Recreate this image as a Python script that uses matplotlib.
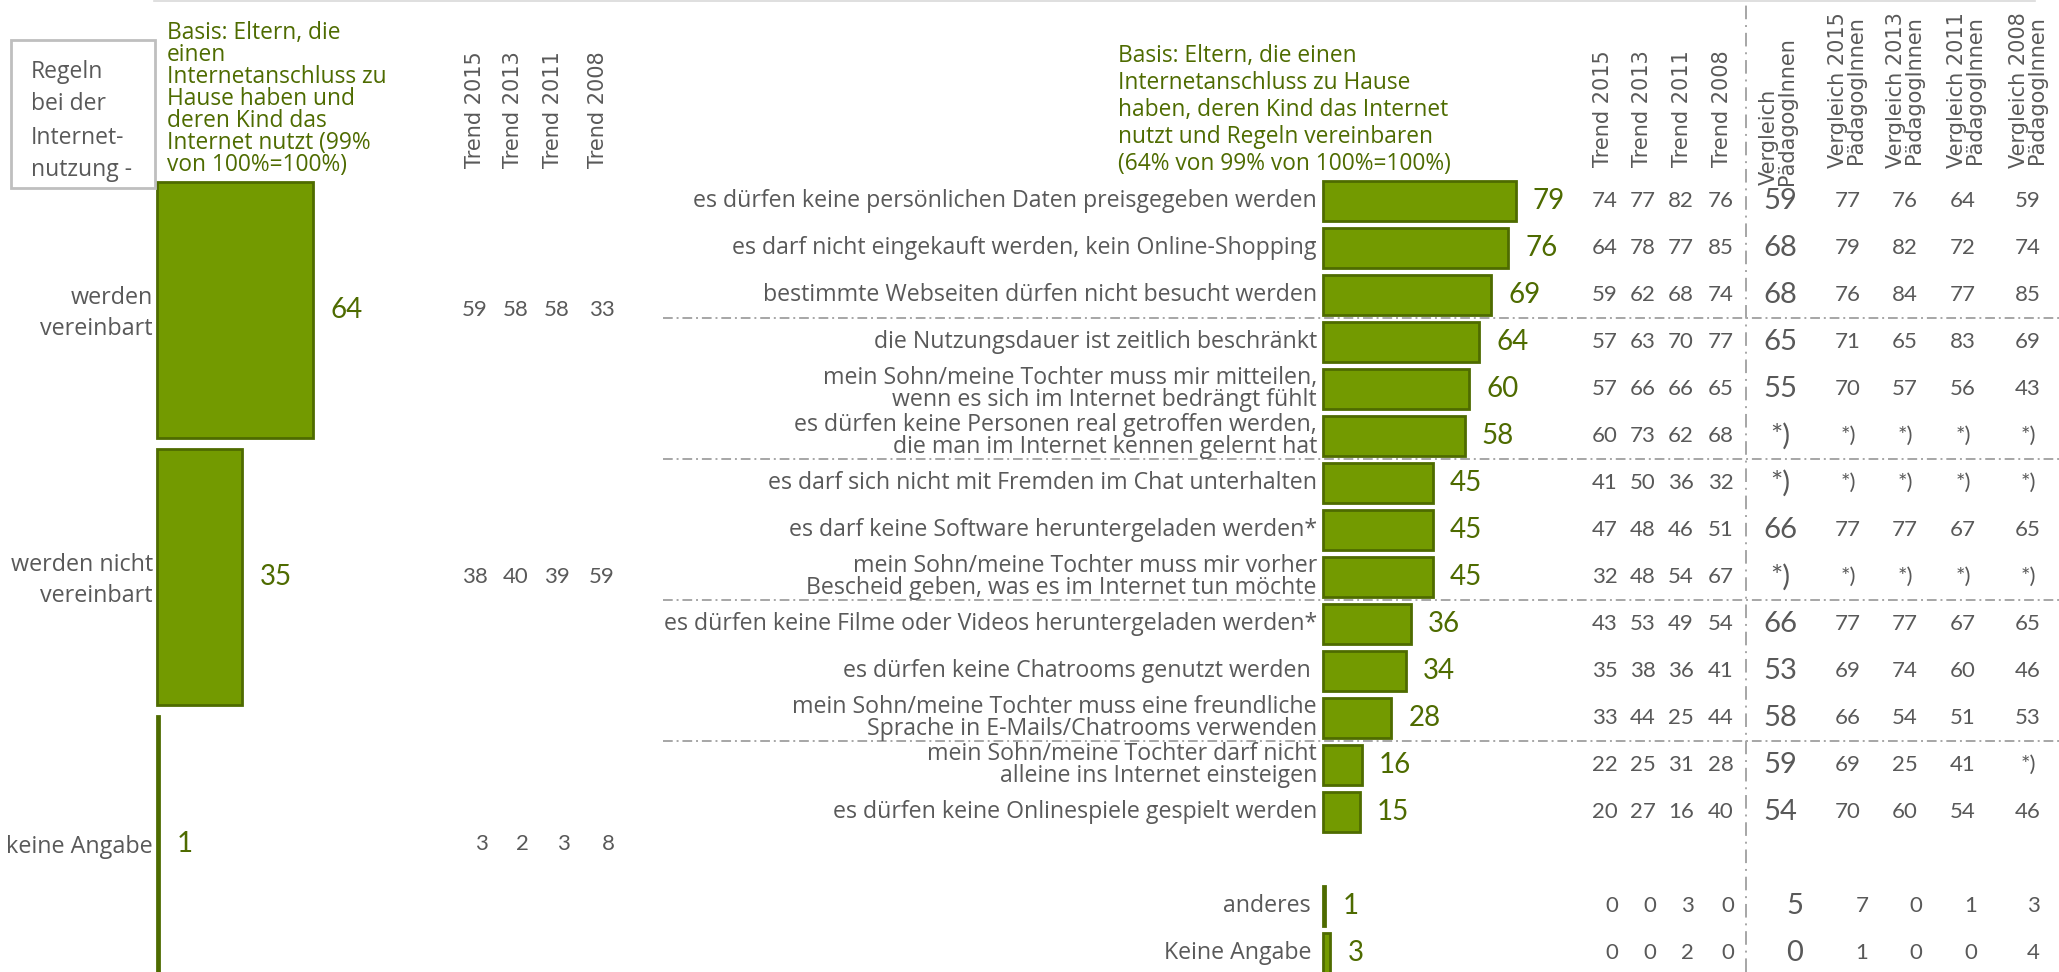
import matplotlib
matplotlib.use("Agg")
import matplotlib.pyplot as plt
from matplotlib.transforms import blended_transform_factory
from matplotlib.patches import Rectangle
from matplotlib.lines import Line2D

# --- data -------------------------------------------------------------
trend_years = ["Trend 2015", "Trend 2013", "Trend 2011", "Trend 2008"]
paed_headers = ["Vergleich 2015\nPädagogInnen", "Vergleich 2013\nPädagogInnen",
                "Vergleich 2011\nPädagogInnen", "Vergleich 2008\nPädagogInnen"]

left_cats = ["werden\nvereinbart", "werden nicht\nvereinbart", "keine Angabe"]
left_vals = [64, 35, 1]
left_trend = [[59, 58, 58, 33], [38, 40, 39, 59], [3, 2, 3, 8]]

right_labels = [
    "es dürfen keine persönlichen Daten preisgegeben werden",
    "es darf nicht eingekauft werden, kein Online-Shopping",
    "bestimmte Webseiten dürfen nicht besucht werden",
    "die Nutzungsdauer ist zeitlich beschränkt",
    "mein Sohn/meine Tochter muss mir mitteilen,\nwenn es sich im Internet bedrängt fühlt",
    "es dürfen keine Personen real getroffen werden,\ndie man im Internet kennen gelernt hat",
    "es darf sich nicht mit Fremden im Chat unterhalten",
    "es darf keine Software heruntergeladen werden*",
    "mein Sohn/meine Tochter muss mir vorher\nBescheid geben, was es im Internet tun möchte",
    "es dürfen keine Filme oder Videos heruntergeladen werden*",
    "es dürfen keine Chatrooms genutzt werden ",
    "mein Sohn/meine Tochter muss eine freundliche\nSprache in E-Mails/Chatrooms verwenden",
    "mein Sohn/meine Tochter darf nicht\nalleine ins Internet einsteigen",
    "es dürfen keine Onlinespiele gespielt werden",
    "anderes ",
    "Keine Angabe ",
]
right_vals = [79, 76, 69, 64, 60, 58, 45, 45, 45, 36, 34, 28, 16, 15, 1, 3]
right_trend = [
    [74, 77, 82, 76], [64, 78, 77, 85], [59, 62, 68, 74], [57, 63, 70, 77],
    [57, 66, 66, 65], [60, 73, 62, 68], [41, 50, 36, 32], [47, 48, 46, 51],
    [32, 48, 54, 67], [43, 53, 49, 54], [35, 38, 36, 41], [33, 44, 25, 44],
    [22, 25, 31, 28], [20, 27, 16, 40], [0, 0, 3, 0], [0, 0, 2, 0],
]
paed_total = ["59", "68", "68", "65", "55", "*)", "*)", "66", "*)", "66",
              "53", "58", "59", "54", "5", "0"]
paed_trend = [
    ["77", "76", "64", "59"], ["79", "82", "72", "74"], ["76", "84", "77", "85"],
    ["71", "65", "83", "69"], ["70", "57", "56", "43"], ["*)", "*)", "*)", "*)"],
    ["*)", "*)", "*)", "*)"], ["77", "77", "67", "65"], ["*)", "*)", "*)", "*)"],
    ["77", "77", "67", "65"], ["69", "74", "60", "46"], ["66", "54", "51", "53"],
    ["69", "25", "41", "*)"], ["70", "60", "54", "46"], ["7", "0", "1", "3"],
    ["1", "0", "0", "4"],
]
# row 14 stays empty before "anderes"
right_pos = list(range(14)) + [15, 16]

# --- styling ----------------------------------------------------------
GREEN = "#739a00"
DARK = "#4e6b00"
GRAY = "#595959"
LINE = "#a6a6a6"
FONT = "Open Sans"
NFONT = "Lato"
HFONT = "DejaVu Sans"

W, H = 2059, 972
PX_PER_UNIT = 2.44

fig = plt.figure(figsize=(W / 100, H / 100), dpi=100)


def fx(px):
    return px / W


def fy(py):
    return 1 - py / H


# left panel axes: rows 267 px apart, first row centre at y=310
ax_l = fig.add_axes([fx(157), 0, 100 * PX_PER_UNIT / W, 1])
ax_l.set_xlim(0, 100)
ax_l.set_ylim((H - 310) / 267, -310 / 267)
ax_l.axis("off")

# right panel axes: rows 47 px apart, first row centre at y=201
ax_r = fig.add_axes([fx(1323), 0, 100 * PX_PER_UNIT / W, 1])
ax_r.set_xlim(0, 100)
ax_r.set_ylim((H - 201) / 47, -201 / 47)
ax_r.axis("off")

ax_l.barh(range(len(left_vals)), left_vals, height=0.96, color=GREEN,
          edgecolor=DARK, linewidth=2, clip_on=False)
ax_r.barh(right_pos, right_vals, height=0.85, color=GREEN,
          edgecolor=DARK, linewidth=2, clip_on=False)

tl = blended_transform_factory(fig.transFigure, ax_l.transData)
tr = blended_transform_factory(fig.transFigure, ax_r.transData)

# left panel texts
for i, (cat, v, tr_vals) in enumerate(zip(left_cats, left_vals, left_trend)):
    ax_l.text(fx(153), i + 0.012, cat, transform=tl, ha="right", va="center",
              fontsize=16.8, color=GRAY, family=FONT, linespacing=1.4,
              multialignment="right")
    ax_l.text(v + 7, i, str(v), ha="left", va="center", fontsize=20,
              color=DARK, family=NFONT)
    for xr, t in zip([488, 529, 570, 615], tr_vals):
        ax_l.text(fx(xr), i, str(t), transform=tl, ha="right", va="center",
                  fontsize=16, color=GRAY, family=NFONT)

# right panel texts
main_cols = [1780, 1848, 1905, 1963, 2028]
low_cols = [1795, 1862, 1916, 1971, 2033]
for lab, p, v, tv, pt, ptr in zip(right_labels, right_pos, right_vals,
                                  right_trend, paed_total, paed_trend):
    ax_r.text(fx(1317), p, lab, transform=tr, ha="right", va="center",
              fontsize=16.7, color=GRAY, family=FONT, linespacing=0.93,
              multialignment="right")
    ax_r.text(v + 7, p, str(v), ha="left", va="center", fontsize=20,
              color=DARK, family=NFONT)
    for xr, t in zip([1618, 1656, 1694, 1734], tv):
        ax_r.text(fx(xr), p, str(t), transform=tr, ha="right", va="center",
                  fontsize=16, color=GRAY, family=NFONT)
    cols = main_cols if p < 14 else low_cols
    ax_r.text(fx(cols[0]), p, pt, transform=tr, ha="center", va="center",
              fontsize=21, color=GRAY, family=NFONT)
    for xc, t in zip(cols[1:], ptr):
        ax_r.text(fx(xc), p, t, transform=tr, ha="center", va="center",
                  fontsize=16, color=GRAY, family=NFONT)

# separators between row groups
for yb in [2.5, 5.5, 8.5, 11.5]:
    ax_r.plot([fx(663), 1], [yb, yb], transform=tr, color=LINE, lw=1.4,
              linestyle=(0, (5, 2, 1, 2)), clip_on=False)

fig.add_artist(Line2D([fx(1746), fx(1746)], [0, 1], color=LINE, lw=1.4,
                      linestyle=(0, (7, 3, 1, 3))))
fig.add_artist(Line2D([fx(154), fx(2035)], [fy(1), fy(1)], color="#d9d9d9",
                      lw=1.2))

# column headers
for xc, t in zip([475, 513, 553, 598], trend_years):
    fig.text(fx(xc), fy(168), t, rotation=90, ha="center", va="bottom",
             fontsize=15, color=GRAY, family=HFONT)
for xc, t in zip([1603, 1642, 1682, 1722], trend_years):
    fig.text(fx(xc), fy(167), t, rotation=90, ha="center", va="bottom",
             fontsize=15, color=GRAY, family=HFONT)
fig.text(fx(1778), fy(185), "Vergleich\nPädagogInnen", rotation=90,
         ha="center", va="bottom", fontsize=15, color=GRAY, family=HFONT,
         linespacing=0.9, multialignment="left")
for xc, t in zip([1847, 1905, 1966, 2028], paed_headers):
    fig.text(fx(xc), fy(168), t, rotation=90, ha="center", va="bottom",
             fontsize=15, color=GRAY, family=HFONT, linespacing=0.9,
             multialignment="center")

# title box and base notes
fig.add_artist(Rectangle((fx(11), fy(188)), fx(155) - fx(11), fy(40) - fy(188),
                         transform=fig.transFigure, fill=False,
                         edgecolor="#bfbfbf", lw=2))
fig.text(fx(31), fy(121), "Regeln\nbei der\nInternet-\nnutzung -", ha="left",
         va="center", fontsize=16.5, color=GRAY, family=FONT, linespacing=1.5)
fig.text(fx(167), fy(99),
         "Basis: Eltern, die\neinen\nInternetanschluss zu\nHause haben und\n"
         "deren Kind das\nInternet nutzt (99%\nvon 100%=100%)",
         ha="left", va="center", fontsize=16.4, color=DARK, family=FONT,
         linespacing=0.88)
fig.text(fx(1118), fy(110),
         "Basis: Eltern, die einen\nInternetanschluss zu Hause\n"
         "haben, deren Kind das Internet\nnutzt und Regeln vereinbaren\n"
         "(64% von 99% von 100%=100%)",
         ha="left", va="center", fontsize=16.4, color=DARK, family=FONT,
         linespacing=1.18)

fig.savefig("out.png", dpi=100)
